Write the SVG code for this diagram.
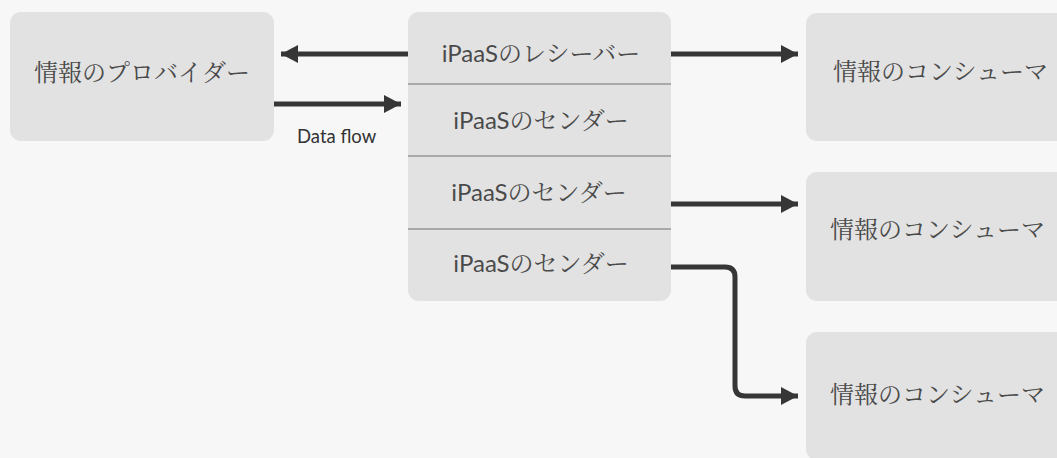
<svg xmlns="http://www.w3.org/2000/svg" width="1057" height="458" viewBox="0 0 1057 458">
  <style>
    .box { fill: #e2e2e2; }
    .sep { stroke: #a9a9a9; stroke-width: 2; }
    .lbl { font-family: Lato, "Noto Serif CJK JP", "Noto Sans CJK JP", sans-serif; font-size: 24px; fill: #4a4a4a; }
    .mid { text-anchor: middle; }
    .small { font-family: Lato, "Noto Sans", sans-serif; font-size: 18.5px; fill: #333333; }
    .edge { fill: none; stroke: #363636; stroke-width: 5; marker-end: url(#head); }
  </style>
  <defs>
    <marker id="head" markerUnits="userSpaceOnUse" markerWidth="18" markerHeight="20" refX="17" refY="9" orient="auto">
      <path d="M0,0 L17,9 L0,18 Z" fill="#363636"/>
    </marker>
  </defs>

  <rect width="1057" height="458" fill="#f7f7f7"/>

  <g id="provider">
    <rect class="box" x="10" y="12" width="264" height="129" rx="11"/>
    <text class="lbl mid" x="142" y="81">情報のプロバイダー</text>
  </g>

  <g id="ipaas">
    <rect class="box" x="408" y="12" width="263" height="289" rx="11"/>
    <line class="sep" x1="408" y1="84" x2="671" y2="84"/>
    <line class="sep" x1="408" y1="156" x2="671" y2="156"/>
    <line class="sep" x1="408" y1="229" x2="671" y2="229"/>
    <text class="lbl mid" x="541" y="62">iPaaSのレシーバー</text>
    <text class="lbl mid" x="541" y="129">iPaaSのセンダー</text>
    <text class="lbl mid" x="539" y="201">iPaaSのセンダー</text>
    <text class="lbl mid" x="541" y="272">iPaaSのセンダー</text>
  </g>

  <g id="consumer1">
    <rect class="box" x="806" y="13" width="300" height="128" rx="11"/>
    <text class="lbl" x="833" y="80">情報のコンシューマ</text>
  </g>
  <g id="consumer2">
    <rect class="box" x="806" y="172" width="300" height="129" rx="11"/>
    <text class="lbl" x="830" y="238">情報のコンシューマ</text>
  </g>
  <g id="consumer3">
    <rect class="box" x="806" y="332" width="300" height="128" rx="11"/>
    <text class="lbl" x="830" y="403">情報のコンシューマ</text>
  </g>

  <g id="connectors">
    <path class="edge" d="M408,54 H281"/>
    <path class="edge" d="M274,104 H401"/>
    <text class="small" x="297" y="143">Data flow</text>
    <path class="edge" d="M671,54 H798"/>
    <path class="edge" d="M671,204 H798"/>
    <path class="edge" d="M671,267 H725 Q735,267 735,277 V386 Q735,396 745,396 H798"/>
  </g>
</svg>
